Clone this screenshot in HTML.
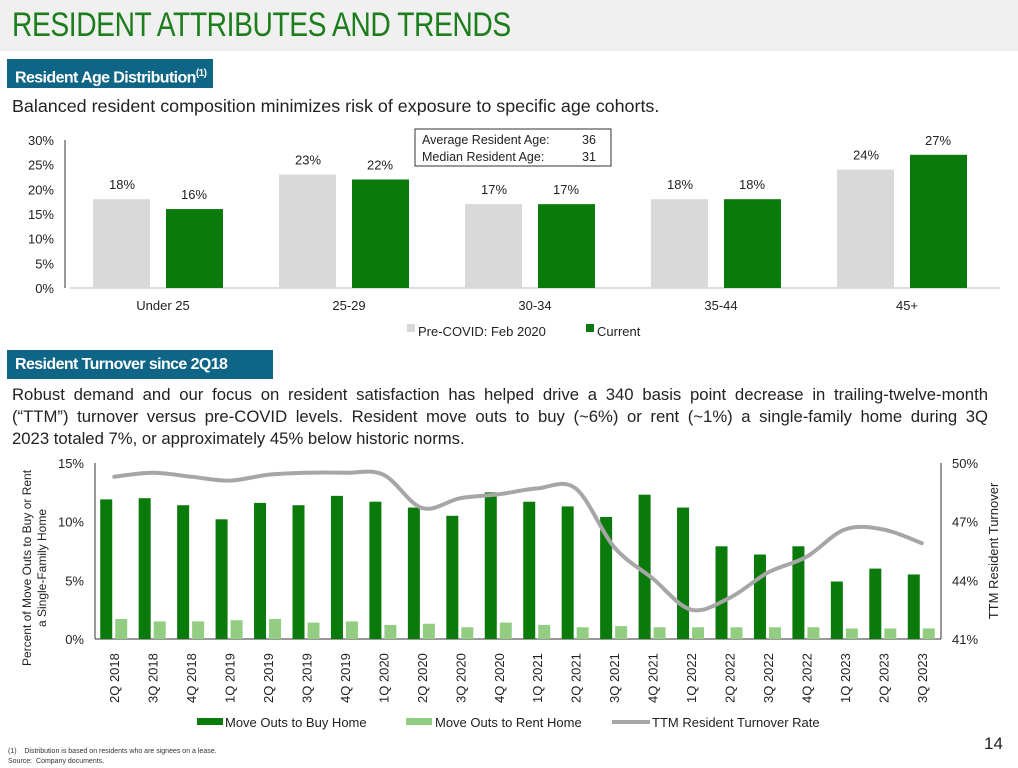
<!DOCTYPE html>
<html><head><meta charset="utf-8">
<style>
body{margin:0;width:1018px;height:768px;background:#fff;font-family:"Liberation Sans",sans-serif;position:relative;overflow:hidden}
.abs{position:absolute}
.hdr{left:0;top:0;width:1018px;height:51px;background:#f0f0f0}
.title{left:12px;top:6px;font-size:34px;color:#1b7d1b;white-space:nowrap;transform:scaleX(0.83);transform-origin:left top;letter-spacing:-0.5px}
.sec{background:#0f6586;color:#fff;font-weight:bold;font-size:16px;height:29px;line-height:29px;padding-left:8px;box-sizing:border-box;letter-spacing:-0.6px}
.txt{font-size:17.5px;color:#222}
.jl{display:block;text-align:justify;text-align-last:justify;white-space:nowrap}
</style></head><body>
<div class="abs hdr"></div>
<div class="abs title">RESIDENT ATTRIBUTES AND TRENDS</div>
<div class="abs sec" style="left:7px;top:59px;width:206px">Resident Age Distribution<sup style="font-size:10px">(1)</sup></div>
<div class="abs txt" style="left:12px;top:96px;font-size:17.9px">Balanced resident composition minimizes risk of exposure to specific age cohorts.</div>
<div class="abs sec" style="left:7px;top:350px;width:266px">Resident Turnover since 2Q18</div>
<div class="abs txt" style="left:12px;top:384px;width:976px;line-height:22px;font-size:16.7px"><span class="jl">Robust demand and our focus on resident satisfaction has helped drive a 340 basis point decrease in trailing-twelve-month</span><span class="jl">(“TTM”) turnover versus pre-COVID levels. Resident move outs to buy (~6%) or rent (~1%) a single-family home during 3Q</span><span style="display:block">2023 totaled 7%, or approximately 45% below historic norms.</span></div>
<div class="abs" style="left:8px;top:747px;font-size:7px;color:#333;line-height:10px">(1)&nbsp;&nbsp;&nbsp;&nbsp;Distribution is based on residents who are signees on a lease.<br>Source: &nbsp;Company documents.</div>
<div class="abs" style="left:984px;top:734px;font-size:17px;color:#222">14</div>

<svg class="abs" style="left:0;top:0" width="1018" height="768" id="svg" font-family="Liberation Sans, sans-serif">
<g id="topg"></g><g id="botg"></g>
</svg>
<script>
const ageCats=["Under 25","25-29","30-34","35-44","45+"];
const preCovid=[18,23,17,18,24];
const current=[16,22,17,18,27];
const ageTicks=[0,5,10,15,20,25,30];

const qCats=["2Q 2018","3Q 2018","4Q 2018","1Q 2019","2Q 2019","3Q 2019","4Q 2019","1Q 2020","2Q 2020","3Q 2020","4Q 2020","1Q 2021","2Q 2021","3Q 2021","4Q 2021","1Q 2022","2Q 2022","3Q 2022","4Q 2022","1Q 2023","2Q 2023","3Q 2023"];
const buyHome=[11.9,12.0,11.4,10.2,11.6,11.4,12.2,11.7,11.2,10.5,12.5,11.7,11.3,10.4,12.3,11.2,7.9,7.2,7.9,4.9,6.0,5.5];
const rentHome=[1.7,1.5,1.5,1.6,1.7,1.4,1.5,1.2,1.3,1.0,1.4,1.2,1.0,1.1,1.0,1.0,1.0,1.0,1.0,0.9,0.9,0.9];
const turnover=[49.3,49.5,49.3,49.1,49.4,49.5,49.5,49.4,47.7,48.2,48.4,48.7,48.7,45.7,44.1,42.5,43.1,44.4,45.2,46.6,46.6,45.9];
const leftTicks=[0,5,10,15];
const rightTicks=[41,44,47,50];

const NS="http://www.w3.org/2000/svg";
function mk(parent,tag,attrs,name,text){const e=document.createElementNS(NS,tag);for(const k in attrs)e.setAttribute(k,attrs[k]);


if(text!==undefined)e.textContent=text;parent.appendChild(e);return e;}

const tg=document.getElementById('topg');
const tX0=70,tX1=1000,tY0=288,tY1=140;
const ty=v=>tY0-(v/30)*(tY0-tY1);
const band=(tX1-tX0)/ageCats.length;
mk(tg,'line',{x1:tX0,y1:tY0,x2:tX1,y2:tY0,stroke:'#bbb'},'age-x-axis');
mk(tg,'line',{x1:tX0-5,y1:tY1,x2:tX0-5,y2:tY0,stroke:'#333'},'age-y-axis');
ageTicks.forEach(t=>mk(tg,'text',{x:54,y:ty(t)+5,'text-anchor':'end','font-size':13,fill:'#222'},'age-y-tick',t+'%'));
ageCats.forEach((c,i)=>{const cx=tX0+band*(i+0.5);
 mk(tg,'rect',{x:cx-70,y:ty(preCovid[i]),width:57,height:tY0-ty(preCovid[i]),fill:'#d9d9d9'},'bar-precovid');
 mk(tg,'rect',{x:cx+3,y:ty(current[i]),width:57,height:tY0-ty(current[i]),fill:'#0a7a0a'},'bar-current');
 mk(tg,'text',{x:cx-41,y:ty(preCovid[i])-10,'text-anchor':'middle','font-size':13,fill:'#222'},'label-precovid',preCovid[i]+'%');
 mk(tg,'text',{x:cx+31,y:ty(current[i])-10,'text-anchor':'middle','font-size':13,fill:'#222'},'label-current',current[i]+'%');
 mk(tg,'text',{x:cx,y:310,'text-anchor':'middle','font-size':13,fill:'#222'},'age-x-label',c);});
mk(tg,'rect',{x:407,y:324,width:8,height:8,fill:'#d9d9d9'},'legend-swatch-precovid');
mk(tg,'text',{x:418,y:336,'font-size':13,fill:'#222'},'legend-precovid','Pre-COVID: Feb 2020');
mk(tg,'rect',{x:586,y:324,width:8,height:8,fill:'#0a7a0a'},'legend-swatch-current');
mk(tg,'text',{x:597,y:336,'font-size':13,fill:'#222'},'legend-current','Current');
mk(tg,'rect',{x:415,y:129,width:196,height:37,fill:'#fff',stroke:'#333'},'age-stats-box');
mk(tg,'text',{x:422,y:144,'font-size':12.5,fill:'#222'},'avg-age-label','Average Resident Age:');
mk(tg,'text',{x:582,y:144,'font-size':12.5,fill:'#222'},'avg-age-value','36');
mk(tg,'text',{x:422,y:161,'font-size':12.5,fill:'#222'},'median-age-label','Median Resident Age:');
mk(tg,'text',{x:582,y:161,'font-size':12.5,fill:'#222'},'median-age-value','31');

const bg=document.getElementById('botg');
const bX0=95,bX1=941,bY0=639,bY1=463;
const by=v=>bY0-(v/15)*(bY0-bY1);
const ry=v=>bY0-((v-41)/9)*(bY0-bY1);
const bw=(bX1-bX0)/qCats.length;
const cxq=i=>bX0+bw*(i+0.5);
mk(bg,'line',{x1:bX0,y1:bY1,x2:bX0,y2:bY0,stroke:'#333'},'left-y-axis');
mk(bg,'line',{x1:bX1,y1:bY1,x2:bX1,y2:bY0,stroke:'#333'},'right-y-axis');
mk(bg,'line',{x1:bX0,y1:bY0,x2:bX1,y2:bY0,stroke:'#333'},'turnover-x-axis');
leftTicks.forEach(t=>mk(bg,'text',{x:84,y:by(t)+5,'text-anchor':'end','font-size':13,fill:'#222'},'left-y-tick',t+'%'));
rightTicks.forEach(t=>mk(bg,'text',{x:952,y:ry(t)+5,'font-size':13,fill:'#222'},'right-y-tick',t+'%'));
qCats.forEach((c,i)=>{const cx=cxq(i);
 mk(bg,'rect',{x:cx-14,y:by(buyHome[i]),width:12,height:bY0-by(buyHome[i]),fill:'#0a7a0a'},'bar-buy-home');
 mk(bg,'rect',{x:cx+1,y:by(rentHome[i]),width:12,height:bY0-by(rentHome[i]),fill:'#92cd82'},'bar-rent-home');
 mk(bg,'text',{x:0,y:0,transform:`translate(${cx+5},${703}) rotate(-90)`,'font-size':13,fill:'#222'},'x-tick-label',c);});
const pts=turnover.map((v,i)=>[cxq(i),ry(v)]);
let d=`M${pts[0][0]},${pts[0][1]}`;
for(let i=0;i<pts.length-1;i++){const p0=pts[Math.max(0,i-1)],p1=pts[i],p2=pts[i+1],p3=pts[Math.min(pts.length-1,i+2)];
 d+=` C${p1[0]+(p2[0]-p0[0])/6},${p1[1]+(p2[1]-p0[1])/6} ${p2[0]-(p3[0]-p1[0])/6},${p2[1]-(p3[1]-p1[1])/6} ${p2[0]},${p2[1]}`;}
mk(bg,'path',{d:d,fill:'none',stroke:'#a6a6a6','stroke-width':4,'stroke-linecap':'round'},'ttm-turnover-line');
mk(bg,'text',{x:0,y:0,transform:'translate(31,568) rotate(-90)','text-anchor':'middle','font-size':12,fill:'#222'},'left-y-title','Percent of Move Outs to Buy or Rent');
mk(bg,'text',{x:0,y:0,transform:'translate(46,568) rotate(-90)','text-anchor':'middle','font-size':12,fill:'#222'},'left-y-title-2','a Single-Family Home');
mk(bg,'text',{x:0,y:0,transform:'translate(998,551) rotate(-90)','text-anchor':'middle','font-size':13,fill:'#222'},'right-y-title','TTM Resident Turnover');
mk(bg,'rect',{x:197,y:718,width:26,height:7,fill:'#0a7a0a'},'legend-swatch-buy');
mk(bg,'text',{x:225,y:727,'font-size':13,fill:'#222'},'legend-buy','Move Outs to Buy Home');
mk(bg,'rect',{x:406,y:718,width:26,height:7,fill:'#92cd82'},'legend-swatch-rent');
mk(bg,'text',{x:435,y:727,'font-size':13,fill:'#222'},'legend-rent','Move Outs to Rent Home');
mk(bg,'line',{x1:612,y1:722,x2:650,y2:722,stroke:'#a6a6a6','stroke-width':4},'legend-swatch-ttm');
mk(bg,'text',{x:652,y:727,'font-size':13,fill:'#222'},'legend-ttm','TTM Resident Turnover Rate');
</script>
</body></html>
